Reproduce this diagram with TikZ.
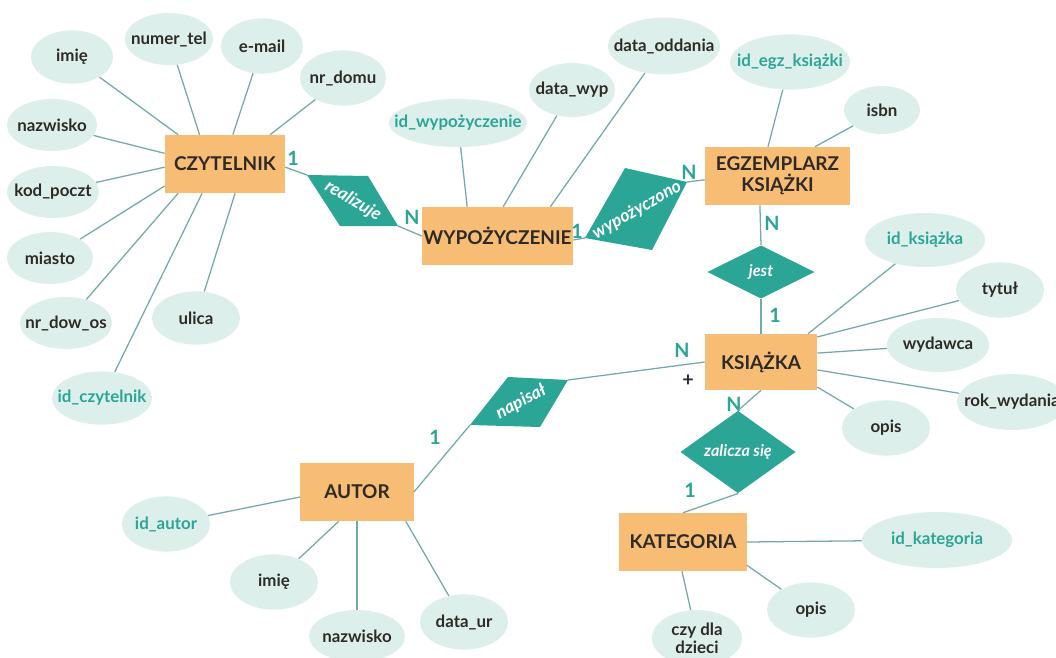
\documentclass[tikz,border=0pt]{standalone}
\usepackage{fontspec}
\setmainfont{Lato}
\usetikzlibrary{shapes.geometric}

\definecolor{orangebox}{HTML}{F8BD74}
\definecolor{tealrel}{HTML}{2AA596}
\definecolor{attrfill}{HTML}{DDEFEB}
\definecolor{linecol}{HTML}{74A9AA}
\definecolor{darktext}{HTML}{2E2A26}

\begin{document}
\begin{tikzpicture}[x=0.025cm,y=-0.025cm,
        entity/.style={rectangle,fill=orangebox,minimum height=1.45cm,inner xsep=1pt,align=center,
            text=darktext,font=\fontsize{13.5}{15}\selectfont\bfseries},
        attr/.style={ellipse,fill=attrfill,minimum width=2.2cm,minimum height=1.38cm,
            inner sep=-1cm,align=center,text=darktext,font=\fontsize{12}{13}\selectfont\bfseries},
        key/.style={attr,text=tealrel},
        rel/.style={fill=tealrel},
        reldiam/.style={diamond,fill=tealrel,inner sep=0pt,text=white,
            font=\fontsize{11.5}{13}\selectfont\bfseries\itshape},
        reltext/.style={text=white,inner sep=0pt,font=\fontsize{12.5}{13}\selectfont\bfseries\itshape},
        card/.style={text=tealrel,font=\fontsize{14}{16}\selectfont\bfseries},
        conn/.style={draw=linecol,line width=0.9pt}]

    \clip (0,0) rectangle (1056,657);
    \fill[white] (0,0) rectangle (1056,657);

    % encje
    \node[entity,minimum width=3cm] (czytelnik) at (225,164) {CZYTELNIK};
    \node[entity,minimum width=3.625cm] (wypozyczenie) at (497.5,236) {WYPOŻYCZENIE};
    \node[entity,minimum width=3.625cm] (egzemplarz) at (777.5,176) {EGZEMPLARZ\\KSIĄŻKI};
    \node[entity,minimum width=2.8cm,minimum height=1.4cm] (ksiazka) at (761,362) {KSIĄŻKA};
    \node[entity,minimum width=2.83cm] (autor) at (357,492) {AUTOR};
    \node[entity,minimum width=3.18cm] (kategoria) at (683,542) {KATEGORIA};

    % atrybuty czytelnika
    \node[attr,minimum width=2.05cm,minimum height=1.33cm] (imie) at (72,57) {imię};
    \node[attr,minimum height=1.3cm] (numertel) at (169,39) {numer\_tel};
    \node[attr,minimum width=2.05cm] (email) at (262,46) {e-mail};
    \node[attr,minimum width=2.15cm] (nrdomu) at (343,78) {nr\_domu};
    \node[attr,minimum width=2.25cm,minimum height=1.3cm] (nazwisko) at (52,125) {nazwisko};
    \node[attr,minimum width=2.3cm,minimum height=1.3cm] (kodpoczt) at (53,192) {kod\_poczt};
    \node[attr,minimum width=2.15cm,minimum height=1.3cm] (miasto) at (50,258) {miasto};
    \node[attr,minimum width=2.3cm,minimum height=1.3cm] (nrdowos) at (66,323) {nr\_dow\_os};
    \node[attr,minimum height=1.33cm] (ulica) at (196,318) {ulica};
    \node[key,minimum width=2.5cm,minimum height=1.33cm] (idczytelnik) at (102,398) {id\_czytelnik};

    % atrybuty wypozyczenia
    \node[key,minimum width=3.45cm,minimum height=1.2cm] (idwyp) at (458,123) {id\_wypożyczenie};
    \node[attr,minimum width=2.15cm,minimum height=1.35cm] (datawyp) at (572,90) {data\_wyp};
    \node[attr,minimum width=2.8cm,minimum height=1.42cm] (dataodd) at (664,46) {data\_oddania};

    % atrybuty egzemplarza
    \node[key,minimum width=3cm] (idegz) at (790,62) {id\_egz\_książki};
    \node[attr,minimum width=1.9cm,minimum height=1.2cm] (isbn) at (882,110) {isbn};

    % atrybuty ksiazki
    \node[key,minimum width=3cm,minimum height=1.35cm] (idksiazka) at (925,240) {id\_książka};
    \node[attr] (tytul) at (1000,290) {tytuł};
    \node[attr,minimum width=2.55cm,minimum height=1.35cm] (wydawca) at (938,345) {wydawca};
    \node[attr,minimum width=2.75cm,minimum height=1.4cm] (rokwyd) at (1012,402) {rok\_wydania};
    \node[attr] (opis) at (886,428) {opis};

    % atrybuty autora
    \node[key] (idautor) at (166,524) {id\_autor};
    \node[attr] (imie2) at (274,582) {imię};
    \node[attr,minimum width=2.4cm,minimum height=1.3cm] (nazwisko2) at (357,636) {nazwisko};
    \node[attr] (dataur) at (464,622) {data\_ur};

    % atrybuty kategorii
    \node[key,minimum width=3.75cm,minimum height=1.4cm] (idkat) at (937,540) {id\_kategoria};
    \node[attr] (opis2) at (811,610) {opis};
    \node[attr,minimum width=2.25cm,minimum height=1.4cm,font=\fontsize{12}{12.5}\selectfont\bfseries] (czydla) at (697,638) {czy dla\\dzieci};

    % zwiazki
    \coordinate (rea-a) at (307,175);
    \coordinate (rea-b) at (368,176);
    \coordinate (rea-c) at (398,226);
    \coordinate (rea-d) at (340,226);
    \fill[rel] (rea-a) -- (rea-b) -- (rea-c) -- (rea-d) -- cycle;
    \node[reltext,rotate=-31] (realizuje) at (353,201) {realizuje};

    \coordinate (wyp-a) at (625,168);
    \coordinate (wyp-b) at (687,182);
    \coordinate (wyp-c) at (652,250);
    \coordinate (wyp-d) at (585,238);
    \fill[rel] (wyp-a) -- (wyp-b) -- (wyp-c) -- (wyp-d) -- cycle;
    \node[reltext,rotate=30] (wypozyczono) at (637,210) {wypożyczono};

    \coordinate (nap-a) at (508,377);
    \coordinate (nap-b) at (568,380);
    \coordinate (nap-c) at (540,427);
    \coordinate (nap-d) at (470,425);
    \fill[rel] (nap-a) -- (nap-b) -- (nap-c) -- (nap-d) -- cycle;
    \node[reltext,rotate=28] (napisal) at (521,402) {napisał};

    \node[reldiam,minimum width=2.68cm,minimum height=1.33cm] (jest) at (761,272) {jest};
    \node[reldiam,minimum width=2.88cm,minimum height=1.38cm] (zalicza) at (738,452) {zalicza się};

    % krotnosci
    \node[card] at (293,158) {1};
    \node[card] at (412,217) {N};
    \node[card] at (577,231) {1};
    \node[card] at (689,172) {N};
    \node[card] at (772,223) {N};
    \node[card] at (775,315) {1};
    \node[card] at (682,350) {N};
    \node[card,text=darktext] at (688,381) {+};
    \node[card] at (734,404) {N};
    \node[card] at (690,490) {1};
    \node[card] at (435,437) {1};

    \path[conn]
    (czytelnik.-3) edge (rea-a)
    (rea-c) edge (wypozyczenie.west)
    (wypozyczenie.-3) edge (wyp-d)
    (wyp-b) edge (egzemplarz.183)
    (egzemplarz.239) edge (jest.north)
    (jest.south) edge (ksiazka.north)
    (nap-b) edge (ksiazka.west)
    (nap-d) edge (autor.east)
    (ksiazka.south) edge (zalicza.north)
    (zalicza.south) edge (kategoria.north);

    \path[conn]
    (imie) edge (czytelnik.148)
    (numertel) edge (czytelnik.131)
    (email) edge (czytelnik.75)
    (nrdomu) edge (czytelnik.33)
    (nazwisko) edge (czytelnik.170)
    (kodpoczt) edge (czytelnik.183)
    (miasto) edge (czytelnik.200)
    (nrdowos) edge (czytelnik.212)
    (idczytelnik) edge (czytelnik.232)
    (ulica) edge (czytelnik.289)
    (idwyp) edge (wypozyczenie.136)
    (datawyp) edge (wypozyczenie.79)
    (dataodd) edge (wypozyczenie.29)
    (idegz) edge (egzemplarz.108)
    (isbn) edge (egzemplarz.38)
    (idksiazka) edge (ksiazka.31)
    (tytul) edge (ksiazka.24)
    (wydawca) edge (ksiazka.9)
    (rokwyd) edge (ksiazka.-8)
    (opis) edge (ksiazka.-24)
    (idautor) edge (autor.185)
    (imie2) edge (autor.238)
    (nazwisko2) edge (autor.south)
    (dataur) edge (autor.-31)
    (idkat) edge (kategoria.east)
    (opis2) edge (kategoria.-20)
    (czydla) edge (kategoria.268);
\end{tikzpicture}
\end{document}
